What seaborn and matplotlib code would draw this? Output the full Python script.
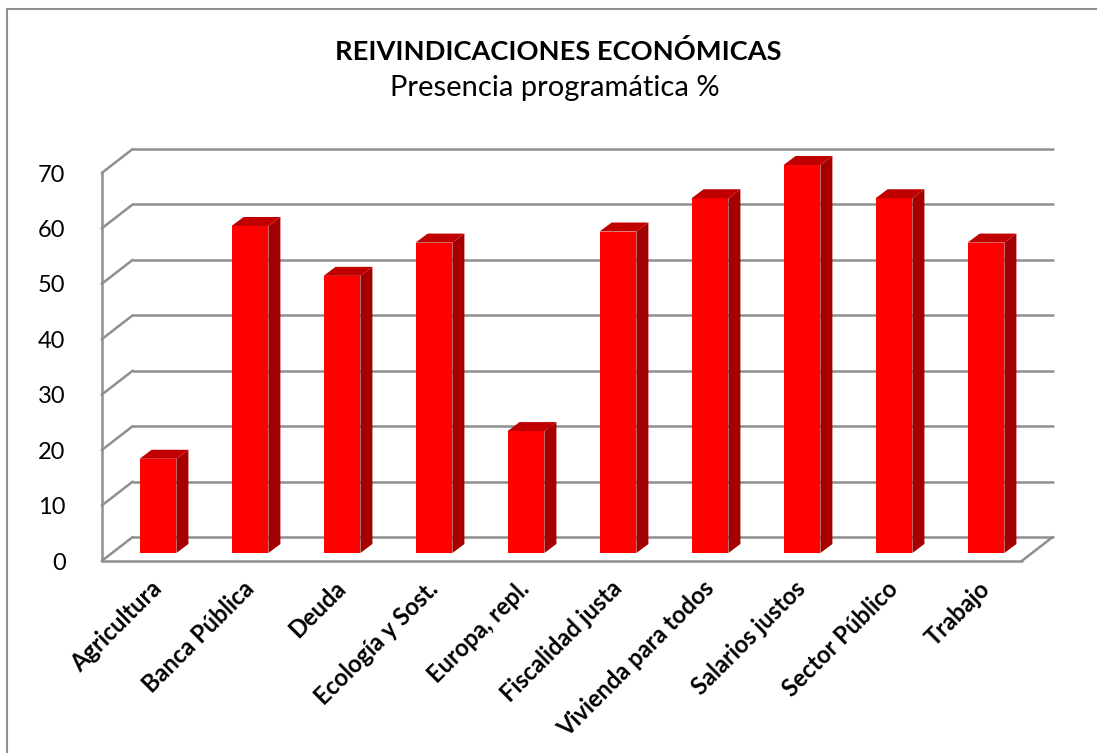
import numpy as np
import matplotlib
matplotlib.use("Agg")
import matplotlib.pyplot as plt
from matplotlib.patches import Polygon, Rectangle
from matplotlib.lines import Line2D
from matplotlib.transforms import IdentityTransform, ScaledTranslation
import seaborn as sns

# ── Data ──────────────────────────────────────────────────────────────────────
categorias = ["Agricultura", "Banca Pública", "Deuda", "Ecología y Sost.",
              "Europa, repl.", "Fiscalidad justa", "Vivienda para todos",
              "Salarios justos", "Sector Público", "Trabajo"]
valores = [17, 59, 50, 56, 22, 58, 64, 70, 64, 56]
yticks = [0, 10, 20, 30, 40, 50, 60, 70]

titulo = "REIVINDICACIONES ECONÓMICAS"
subtitulo = "Presencia programática %"

# ── Style ─────────────────────────────────────────────────────────────────────
W, H, DPI = 1097, 753, 100
sns.set_style("white")
plt.rcParams["font.family"] = ["Lato", "DejaVu Sans"]
plt.rcParams["text.color"] = "black"
plt.rcParams["xtick.color"] = "black"
plt.rcParams["ytick.color"] = "black"

FRONT = "#ff0000"
SIDE = "#a50000"
TOP = "#c00000"
GRID = "#8f8f8f"

# pseudo-3D offsets in pixels (relative to the plane of the bar front faces)
WALL_BACK = (20.7, 16.0)
WALL_FRONT = (-10.3, -8.0)
BAR_DEPTH = (12.0, 9.0)

fig = plt.figure(figsize=(W / DPI, H / DPI), dpi=DPI)
ax = fig.add_axes([112 / W, 200 / H, 920 / W, 388 / H])

sns.barplot(x=categorias, y=valores, color=FRONT, saturation=1, width=0.4,
            linewidth=0, ax=ax, zorder=3)
ax.set_xlim(-0.5, len(categorias) - 0.5)
ax.set_ylim(0, 70)
ax.patch.set_visible(False)
sns.despine(ax=ax, left=True, bottom=True)
ax.set_xlabel("")
ax.set_ylabel("")


def px(x, y, off=(0, 0)):
    """data -> display pixels, shifted by a depth offset"""
    p = ax.transData.transform((x, y))
    return (p[0] + off[0], p[1] + off[1])


def seg(p0, p1):
    ax.add_line(Line2D([p0[0], p1[0]], [p0[1], p1[1]], color=GRID, lw=1.8,
                       transform=IdentityTransform(), clip_on=False, zorder=1))


x0, x1 = ax.get_xlim()
# back wall gridlines + left wall diagonals
for v in yticks:
    seg(px(x0, v, WALL_BACK), px(x1, v, WALL_BACK))
    seg(px(x0, v, WALL_FRONT), px(x0, v, WALL_BACK))
# left front edge, floor front edge, floor right edge
seg(px(x0, 0, WALL_FRONT), px(x0, yticks[-1], WALL_FRONT))
seg(px(x0, 0, WALL_FRONT), px(x1, 0, WALL_FRONT))
seg(px(x1, 0, WALL_FRONT), px(x1, 0, WALL_BACK))

# side and top faces of each bar
dx, dy = BAR_DEPTH
for bar in ax.patches:
    bx, bw, bh = bar.get_x(), bar.get_width(), bar.get_height()
    br = px(bx + bw, 0)
    tl = px(bx, bh)
    tr = px(bx + bw, bh)
    side = [br, (br[0] + dx, br[1] + dy), (tr[0] + dx, tr[1] + dy), tr]
    top = [tl, (tl[0] + dx, tl[1] + dy), (tr[0] + dx, tr[1] + dy), tr]
    for pts, c in ((side, SIDE), (top, TOP)):
        fig.patches.append(Polygon(pts, closed=True, facecolor=c, edgecolor="none",
                                   transform=IdentityTransform(), zorder=2))

# ticks
ax.set_yticks(yticks)
ax.set_yticklabels([str(v) for v in yticks], fontsize=17)
ax.tick_params(axis="y", length=0, pad=26)
for lab in ax.get_yticklabels():
    lab.set_transform(lab.get_transform() + ScaledTranslation(-10.3 / DPI, -8 / DPI, fig.dpi_scale_trans))

ax.tick_params(axis="x", length=0, pad=23)
plt.setp(ax.get_xticklabels(), rotation=45, ha="right", va="center",
         rotation_mode="anchor", fontsize=17, fontweight="bold")

# titles
fig.text(558 / W, 1 - 52 / H, titulo, ha="center", va="center",
         fontsize=19.6, fontweight="bold")
fig.text(555 / W, 1 - 88 / H, subtitulo, ha="center", va="center", fontsize=21)

# chart area border
fig.patches.append(Rectangle((7 / W, -0.05), 1.2, 1.05 - 9 / H, transform=fig.transFigure,
                             fill=False, edgecolor=GRID, lw=1.5, zorder=0))

fig.savefig("out.png", dpi=DPI)
